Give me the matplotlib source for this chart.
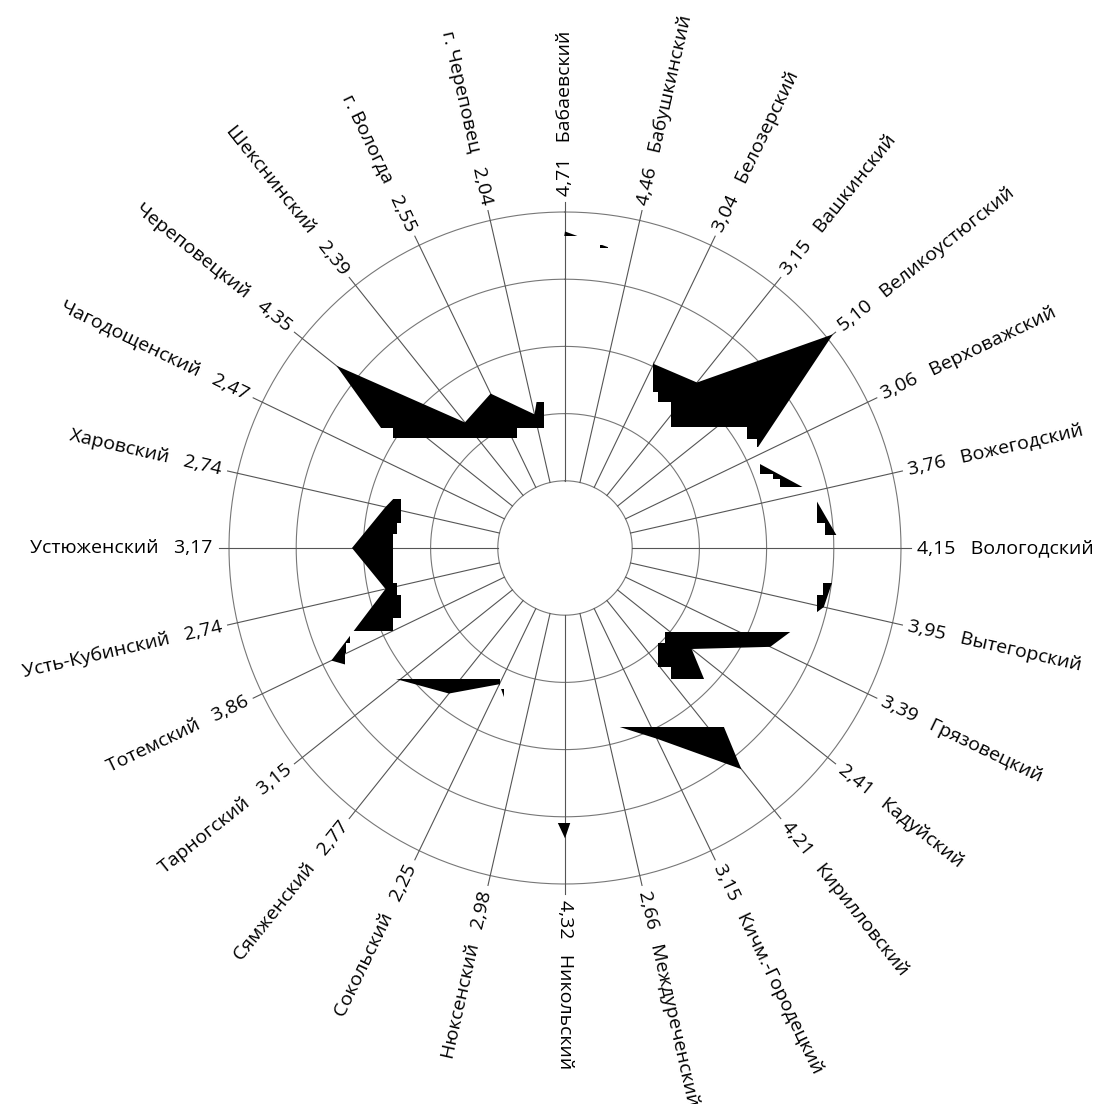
import numpy as np
import matplotlib
matplotlib.use('Agg')
import matplotlib.pyplot as plt
from matplotlib.path import Path
from matplotlib.transforms import Affine2D

plt.rcParams['font.family'] = ['Open Sans', 'DejaVu Sans']

# districts, clockwise from the top
districts = ['Бабаевский', 'Бабушкинский', 'Белозерский', 'Вашкинский',
             'Великоустюгский', 'Верховажский', 'Вожегодский', 'Вологодский',
             'Вытегорский', 'Грязовецкий', 'Кадуйский', 'Кирилловский',
             'Кичм.-Городецкий', 'Междуреченский', 'Никольский', 'Нюксенский',
             'Сокольский', 'Сямженский', 'Тарногский', 'Тотемский',
             'Усть-Кубинский', 'Устюженский', 'Харовский', 'Чагодощенский',
             'Череповецкий', 'Шекснинский', 'г. Вологда', 'г. Череповец']
values = [4.71, 4.46, 3.04, 3.15, 5.10, 3.06, 3.76, 4.15, 3.95, 3.39, 2.41,
          4.21, 3.15, 2.66, 4.32, 2.98, 2.25, 2.77, 3.15, 3.86, 2.74, 3.17,
          2.74, 2.47, 4.35, 2.39, 2.55, 2.04]
rings = [1, 2, 3, 4, 5]

# the source chart's fill is broken: only these scanline blocks got painted
# (x0, y0, x1, y1) in picture pixels
fill_blocks = [
    (560, 231, 582, 235.5), (600, 244.5, 608, 247.5),
    (300, 300, 393.3, 427.7), (393.3, 300, 517.3, 438.3), (517.3, 402.3, 544, 427.7),
    (652.5, 300, 900, 391.7), (657.7, 391.7, 900, 401.7), (670.7, 401.7, 900, 427.3),
    (747.3, 427.3, 900, 439.3), (756.7, 439.3, 900, 447.3),
    (760, 464, 803, 474.3), (773.3, 474.3, 803, 479.3), (780, 479.3, 803, 486.7),
    (816.7, 500, 850, 523.3), (825, 523.3, 850, 535),
    (823.3, 583.3, 850, 595), (817.3, 595, 850, 614),
    (665, 631.7, 800, 643.3), (658.3, 643.3, 800, 666.7), (670.7, 666.7, 800, 679),
    (610, 726.7, 760, 780),
    (540, 823.3, 590, 845),
    (300, 499, 401, 523.3), (300, 523.3, 397.3, 534.3), (300, 534.3, 392.7, 583.3),
    (300, 583.3, 397.3, 595), (300, 595, 401, 618.3), (300, 618.3, 392.7, 630.7),
    (300, 633.3, 350, 643.3), (300, 643.3, 346, 653.3), (300, 653.3, 345, 668),
    (380, 679.3, 500, 700), (500, 689, 504, 701),
]

W, H = 1097, 1104
fig = plt.figure(figsize=(W / 100, H / 100), dpi=100)
fig.patch.set_facecolor('white')

rmax = 5.2
px_per_unit = 67.2
rad = rmax * px_per_unit
cx, cy = 565, 548
ax = fig.add_axes([(cx - rad) / W, (H - cy - rad) / H, 2 * rad / W, 2 * rad / H],
                  projection='polar')
ax.set_theta_zero_location('N')
ax.set_theta_direction(-1)
ax.set_ylim(0, rmax)
ax.axis('off')

n = len(districts)
theta = np.arange(n) * 2 * np.pi / n

# rings and spokes
t = np.linspace(0, 2 * np.pi, 400)
for r in rings:
    ax.plot(t, np.full_like(t, r), color='#777777', lw=0.8, zorder=2)
for th in theta:
    ax.plot([th, th], [1, 5.15], color='#555555', lw=0.8, zorder=2, clip_on=False)

# radar fill
th_c = np.append(theta, theta[0])
v_c = np.append(values, values[0])
polys = ax.fill(th_c, v_c, color='black', lw=0, zorder=3)

verts, codes = [], []
for x0, y0, x1, y1 in fill_blocks:
    verts += [(x0, y0), (x1, y0), (x1, y1), (x0, y1), (x0, y0)]
    codes += [Path.MOVETO, Path.LINETO, Path.LINETO, Path.LINETO, Path.CLOSEPOLY]
clip = Path(verts, codes)
pix = Affine2D().scale(1 / 100, -1 / 100).translate(0, H / 100) + fig.dpi_scale_trans
for p in polys:
    p.set_clip_path(clip, pix)

# labels
for th, name, v in zip(theta, districts, values):
    deg = np.degrees(th)
    a = 90 - deg
    val = ('%.2f' % v).replace('.', ',')
    if deg <= 180.01:
        s = val + '   ' + name
        rot, ha = a, 'left'
    else:
        s = name + '   ' + val
        rot, ha = a + 180, 'right'
    ax.text(th, 5.24, s, rotation=rot, rotation_mode='anchor', ha=ha,
            va='center', fontsize=14, color='black')

fig.savefig('out.png', dpi=100, facecolor='white')
